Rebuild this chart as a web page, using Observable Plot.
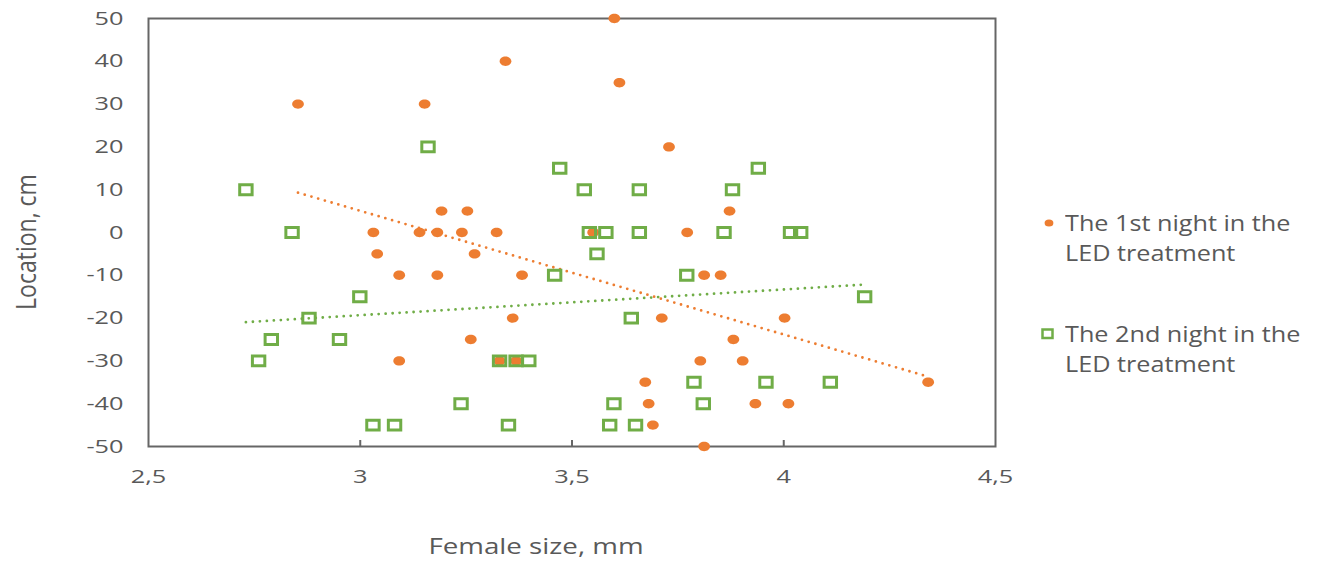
<!DOCTYPE html>
<html>
<head>
<meta charset="utf-8">
<script src="https://cdn.jsdelivr.net/npm/d3@7"></script>
<script src="https://cdn.jsdelivr.net/npm/@observablehq/plot@0.6"></script>
<style>
  html, body { margin: 0; padding: 0; background: #fff; }
  #wrap { position: relative; width: 1326px; height: 567px; font-family: "Open Sans", sans-serif; color: #595959; }
  .lbl { position: absolute; white-space: nowrap; }
  .leg { position: absolute; font-size: 21px; line-height: 30px; white-space: nowrap; transform-origin: left center; transform: scaleX(1.2); }
</style>
</head>
<body>
<div id="wrap"></div>
<script>
// ---- data ----
const xTicks = [2.5, 3, 3.5, 4, 4.5];
const yTicks = [-50, -40, -30, -20, -10, 0, 10, 20, 30, 40, 50];

const series1Name = "The 1st night in the LED treatment";
const night1X = [2.853, 3.152, 3.343, 3.600, 3.612, 3.729, 3.872, 3.192, 3.253,
  3.031, 3.140, 3.182, 3.240, 3.322, 3.550, 3.772,
  3.040, 3.270,
  3.092, 3.182, 3.382, 3.812, 3.851,
  3.360, 3.712, 4.002,
  3.261, 3.881,
  3.092, 3.329, 3.368, 3.803, 3.903,
  3.673, 4.341,
  3.681, 3.933, 4.011,
  3.691,
  3.812];
const night1Y = [30, 30, 40, 50, 35, 20, 5, 5, 5,
  0, 0, 0, 0, 0, 0, 0,
  -5, -5,
  -10, -10, -10, -10, -10,
  -20, -20, -20,
  -25, -25,
  -30, -30, -30, -30, -30,
  -35, -35,
  -40, -40, -40,
  -45,
  -50];

const series2Name = "The 2nd night in the LED treatment";
const night2X = [3.160,
  3.471, 3.940,
  2.730, 3.529, 3.659, 3.879,
  2.839, 3.541, 3.580, 3.659, 3.859, 4.016, 4.040,
  3.559,
  3.459, 3.771,
  2.999, 4.191,
  2.879, 3.640,
  2.790, 2.951,
  2.760, 3.329, 3.368, 3.398,
  3.788, 3.958, 4.110,
  3.238, 3.599, 3.810,
  3.030, 3.081, 3.350, 3.589, 3.650];
const night2Y = [20,
  15, 15,
  10, 10, 10, 10,
  0, 0, 0, 0, 0, 0, 0,
  -5,
  -10, -10,
  -15, -15,
  -20, -20,
  -25, -25,
  -30, -30, -30, -30,
  -35, -35, -35,
  -40, -40, -40,
  -45, -45, -45, -45, -45];

const orange = "#ED7D31";
const green = "#70AD47";

// ---- build tables ----
const d1 = night1X.map((x, i) => ({x, y: night1Y[i]}));
const d2 = night2X.map((x, i) => ({x, y: night2Y[i]}));
const fmtX = d => String(d).replace(".", ",");
const fmtY = d => String(d);

// wide (horizontally stretched) marker shapes, as in the reference
const K = 0.5523;
const ellipseSymbol = {
  draw(ctx, size) {
    const r = Math.sqrt(size / Math.PI);
    const rx = r * 1.13, ry = r * 0.9;
    ctx.moveTo(rx, 0);
    ctx.bezierCurveTo(rx, ry * K, rx * K, ry, 0, ry);
    ctx.bezierCurveTo(-rx * K, ry, -rx, ry * K, -rx, 0);
    ctx.bezierCurveTo(-rx, -ry * K, -rx * K, -ry, 0, -ry);
    ctx.bezierCurveTo(rx * K, -ry, rx, -ry * K, rx, 0);
    ctx.closePath();
  }
};
const rectSymbol = {
  draw(ctx, size) {
    const r = Math.sqrt(size / Math.PI);
    const w = r * 1.0, h = r * 0.8;
    ctx.rect(-w, -h, 2 * w, 2 * h);
  }
};

const chart = Plot.plot({
  width: 1326,
  height: 567,
  marginLeft: 148,
  marginRight: 331,
  marginTop: 18,
  marginBottom: 121,
  x: {domain: [2.5, 4.5]},
  y: {domain: [-50, 50]},
  style: {fontFamily: "Open Sans, sans-serif", fontSize: "19px", color: "#595959", background: "transparent", overflow: "visible"},
  marks: [
    Plot.axisX({ticks: xTicks, tickSize: 0, tickPadding: 23, tickFormat: fmtX, label: null, fontSize: 19, fill: "#595959"}),
    Plot.axisX({ticks: xTicks.slice(1, -1), tickSize: -6, text: null, label: null, stroke: "#666", strokeWidth: 2}),
    Plot.axisY({ticks: yTicks, tickSize: 0, tickPadding: 25, tickFormat: fmtY, label: null, fontSize: 19, fill: "#595959"}),
    Plot.frame({stroke: "#666", strokeWidth: 2}),
    Plot.linearRegressionY(d1, {x: "x", y: "y", ci: 0, stroke: orange, strokeWidth: 2.8, strokeDasharray: "0,7", strokeLinecap: "round"}),
    Plot.linearRegressionY(d2, {x: "x", y: "y", ci: 0, stroke: green, strokeWidth: 2.8, strokeDasharray: "0,7", strokeLinecap: "round"}),
    Plot.dot(d1, {x: "x", y: "y", r: 5.2, symbol: ellipseSymbol, fill: orange, stroke: "none"}),
    Plot.dot(d2, {x: "x", y: "y", r: 6.2, symbol: rectSymbol, fill: "none", stroke: green, strokeWidth: 3})
  ]
});

const wrap = document.getElementById("wrap");
chart.style.position = "absolute";
chart.style.left = "0";
chart.style.top = "0";
wrap.appendChild(chart);

// stretch tick labels horizontally like the reference
chart.querySelectorAll('g[aria-label$="tick label"] text').forEach(t => {
  const len = t.getComputedTextLength();
  if (len > 0) {
    t.setAttribute("textLength", (len * 1.33).toFixed(1));
    t.setAttribute("lengthAdjust", "spacingAndGlyphs");
  }
});

// axis titles
const xt = document.createElement("div");
xt.className = "lbl";
xt.textContent = "Female size, mm";
xt.style.fontSize = "21px";
xt.style.left = "536px";
xt.style.top = "546px";
xt.style.transform = "translate(-50%, -50%) scaleX(1.32)";
wrap.appendChild(xt);

const yt = document.createElement("div");
yt.className = "lbl";
yt.textContent = "Location, cm";
yt.style.fontSize = "23px";
yt.style.left = "25px";
yt.style.top = "242px";
yt.style.transform = "translate(-50%, -50%) rotate(-90deg) scaleY(1.2)";
wrap.appendChild(yt);

// legend
function legendItem(name, top, marker) {
  const words = name.split(" ");
  const line1 = words.slice(0, 5).join(" ");
  const line2 = words.slice(5).join(" ");
  const m = document.createElementNS("http://www.w3.org/2000/svg", "svg");
  m.setAttribute("width", 20); m.setAttribute("height", 20);
  m.style.position = "absolute";
  m.style.left = (1048 - 10) + "px";
  m.style.top = (top - 10) + "px";
  m.innerHTML = marker;
  wrap.appendChild(m);
  const t = document.createElement("div");
  t.className = "leg";
  t.style.left = "1065px";
  t.style.top = (top - 15) + "px";
  t.innerHTML = line1 + "<br>" + line2;
  wrap.appendChild(t);
}
legendItem(series1Name, 223, `<ellipse cx="11" cy="10" rx="4.4" ry="3.6" fill="${orange}"/>`);
legendItem(series2Name, 334, `<rect x="4.5" y="5.5" width="10" height="8.5" fill="none" stroke="${green}" stroke-width="2.5"/>`);
</script>
</body>
</html>
